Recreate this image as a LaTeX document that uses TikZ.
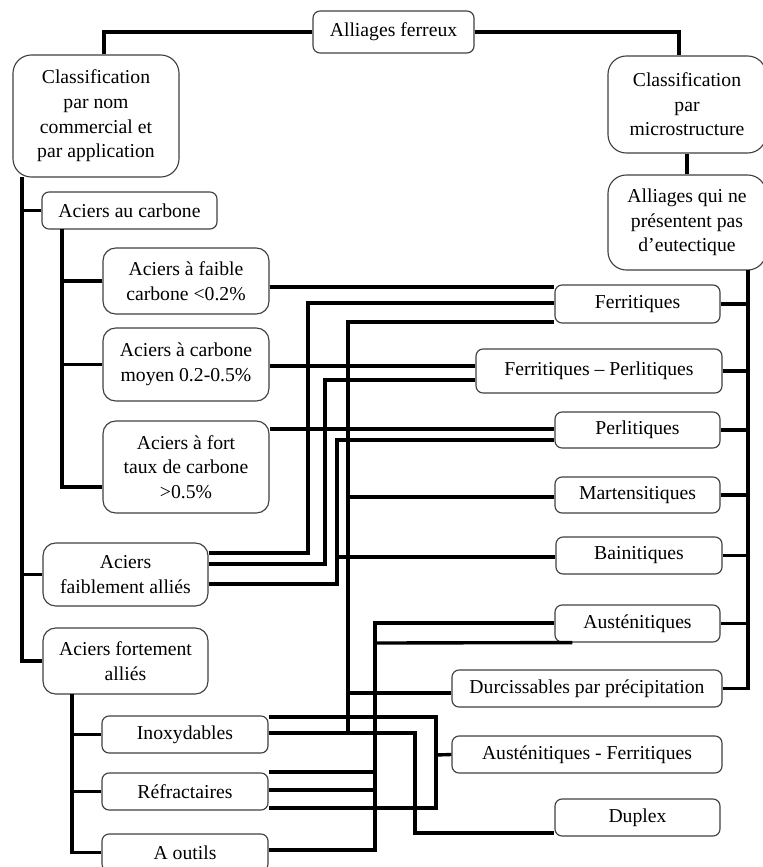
\documentclass[tikz,border=0pt]{standalone}
\usepackage{fontspec}
\setmainfont{Liberation Serif}
\newdimen\px \px=0.025cm
\tikzset{
  box/.style={draw=black!75, line width=0.8pt, rounded corners=5pt, fill=white,
    align=center, inner sep=0pt, font=\fontsize{14}{17.5}\selectfont},
  bigbox/.style={box, rounded corners=9pt},
  hugebox/.style={box, rounded corners=13pt},
  wd/.style={minimum width=#1\px},
  ht/.style={minimum height=#1\px},
  link/.style={line width=2.4pt},
  thicklink/.style={line width=2.6pt},
}
\begin{document}
\begin{tikzpicture}[x=0.025cm, y=-0.025cm]
\useasboundingbox (0,0) rectangle (762,867);
% Top of the tree
\node[box, wd=161, ht=42] (ferreux) at (393.5,32) {Alliages ferreux};
\node[hugebox, wd=166, ht=122] (classL) at (96,116) {Classification\\par nom\\commercial et\\par application};
\node[hugebox, wd=158, ht=97] (classR) at (687,104.5) {Classification\\par\\microstructure};
\node[hugebox, wd=158, ht=95] (eutect) at (687,222.5) {Alliages qui ne\\présentent pas\\d’eutectique};
% Classification by trade name
\node[box, wd=175, ht=37] (aCarb) at (129.5,210.5) {Aciers au carbone};
\node[bigbox, wd=166, ht=66] (faible) at (186,281) {Aciers à faible\\carbone <0.2\%};
\node[bigbox, wd=166, ht=73] (moyen) at (186,364.5) {Aciers à carbone\\moyen 0.2-0.5\%};
\node[bigbox, wd=166, ht=92] (fort) at (186,467) {Aciers à fort\\taux de carbone\\>0.5\%};
\node[bigbox, wd=165, ht=63] (faiblAll) at (125.5,574.5) {Aciers\\faiblement alliés};
\node[bigbox, wd=165, ht=66] (fortAll) at (125.5,661) {Aciers fortement\\alliés};
\node[box, wd=166, ht=37] (inox) at (185,734.5) {Inoxydables};
\node[box, wd=166, ht=37] (refr) at (185,791.5) {Réfractaires};
\node[box, wd=166, ht=37] (outils) at (185,852.5) {A outils};
% Classification by microstructure
\node[box, wd=165, ht=38] (ferr) at (637.5,304) {Ferritiques};
\node[box, wd=246, ht=44] (ferrPerl) at (599,371) {Ferritiques – Perlitiques};
\node[box, wd=165, ht=36] (perl) at (637.5,430) {Perlitiques};
\node[box, wd=165, ht=36] (mart) at (637.5,495) {Martensitiques};
\node[box, wd=166, ht=37] (bain) at (639,555.5) {Bainitiques};
\node[box, wd=165, ht=37] (aust) at (637.5,623.5) {Austénitiques};
\node[box, wd=270, ht=37] (durc) at (587,688.5) {Durcissables par précipitation};
\node[box, wd=270, ht=37] (austFerr) at (587,754.5) {Austénitiques - Ferritiques};
\node[box, wd=165, ht=37] (duplex) at (637.5,817.5) {Duplex};

% Tree links
\draw[link] (ferreux.west) -| ([xshift=8\px]classL.north);
\draw[link] (ferreux.east) -| ([xshift=-8\px]classR.north);
\draw[link] (classR.south) -- (eutect.north);
\coordinate (busL) at (22,177);
\coordinate (busC) at (62,229);
\coordinate (busF) at (72,694);
\coordinate (busR) at (748,270);
\draw[link] (busL) |- (fortAll.west);
\foreach \n in {aCarb,faiblAll}
  \draw[link] (\n.west) -- (\n.west -| busL);
\draw[link] (busC) |- ([yshift=-20\px]fort.west);
\foreach \n in {faible,moyen}
  \draw[link] (\n.west) -- (\n.west -| busC);
\draw[link] (busF) |- (outils.west);
\foreach \n in {inox,refr}
  \draw[link] (\n.west) -- (\n.west -| busF);
\draw[link] (busR) |- (durc.east);
\foreach \n in {ferr,ferrPerl,perl,mart,bain,aust}
  \draw[link] (\n.east) -- (\n.east -| busR);

% Cross links: Ferritiques
\draw[link] (faible.east |- 0,287) -- (ferr.west |- 0,287);
\draw[link] (faiblAll.east |- 0,553) -| (308,303) -- (ferr.west |- 0,303);
\draw[thicklink] (inox.east |- 0,733) -| (415,833) -- (duplex.west |- 0,833);
\draw[thicklink] (348,733) -- (348,322) -- (ferr.west |- 0,322);
\draw[link] (348,497) -- (mart.west |- 0,497);
\draw[link] (348,693) -- (durc.west |- 0,693);
% Ferritiques - Perlitiques
\draw[link] (moyen.east |- 0,366) -- (ferrPerl.west |- 0,366);
\draw[link] (faiblAll.east |- 0,564) -| (325,380) -- (ferrPerl.west |- 0,380);
% Perlitiques, Bainitiques
\draw[link] (fort.east |- 0,429) -- (perl.west |- 0,429);
\draw[thicklink] (faiblAll.east |- 0,584) -| (337,440) -- (perl.west |- 0,440);
\draw[link] (337,557) -- (bain.west |- 0,557);
% Austenitiques
\draw[thicklink] (outils.east |- 0,850) -| (375,623) -- (aust.west |- 0,623);
\draw[link] (375,643) -- ([xshift=18\px]aust.south west);
\draw[link] (refr.east |- 0,772) -- (375,772);
\draw[link] (refr.east |- 0,790) -- (375,790);
% Austenitiques - Ferritiques
\draw[link] (inox.east |- 0,717) -| (436,808) -- (refr.east |- 0,808);
\draw[link] (436,755) -- (austFerr.west);
\end{tikzpicture}
\end{document}
